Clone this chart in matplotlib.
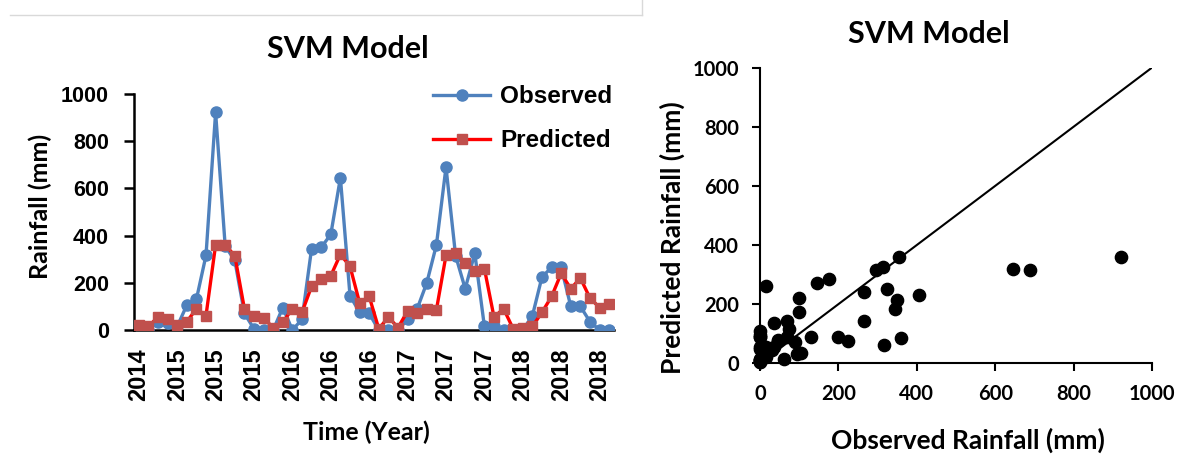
import matplotlib
matplotlib.use("Agg")
import matplotlib.pyplot as plt
from matplotlib.lines import Line2D

# monthly observed and SVM predicted rainfall (mm)
observed = [5, 0, 35, 30, 15, 105, 130, 316, 922, 355,
            295, 70, 5, 0, 0, 95, 0, 45, 345, 350,
            405, 645, 145, 75, 70, 0, 0, 0, 45, 90,
            200, 360, 690, 315, 175, 325, 15, 15, 0, 0,
            0, 60, 225, 265, 265, 100, 100, 35, 0, 0]
predicted = [20, 15, 55, 45, 20, 35, 90, 61, 360, 360,
             315, 90, 60, 50, 10, 33, 90, 75, 185, 215,
             230, 320, 270, 115, 142, 5, 55, 10, 80, 72,
             90, 85, 316, 325, 285, 250, 260, 55, 90, 5,
             10, 15, 75, 142, 240, 175, 220, 135, 95, 110]
tick_labels = ["2014", "2015", "2015", "2015", "2016", "2016", "2016",
               "2017", "2017", "2017", "2018", "2018", "2018"]
scatter_ticks = [0, 200, 400, 600, 800, 1000]

blue = "#4f81bd"
red_line = "#ff0000"
red_mark = "#c0504d"
lab_font = "Lato"
tick_font = "Liberation Sans"

fig = plt.figure(figsize=(11.84, 4.59), dpi=100)

# thin grey border left over from the screenshot
fig.add_artist(Line2D([10 / 1184, 642 / 1184], [1 - 15 / 459, 1 - 15 / 459],
                      color="#d9d9d9", lw=1))
fig.add_artist(Line2D([642 / 1184, 642 / 1184], [1, 1 - 15 / 459],
                      color="#d9d9d9", lw=1))

# ---- left: time series ----
ax1 = fig.add_axes([134 / 1184, 129 / 459, 480 / 1184, 236 / 459])
x = list(range(len(observed)))
ax1.plot(x, observed, color=blue, lw=2.4, marker="o", ms=8,
         markerfacecolor=blue, markeredgecolor=blue, label="Observed", zorder=3)
ax1.plot(x, predicted, color=red_line, lw=2.4, marker="s", ms=7.5,
         markerfacecolor=red_mark, markeredgecolor=red_mark, label="Predicted", zorder=4)
ax1.set_xlim(-0.5, len(observed) - 0.5)
ax1.set_ylim(0, 1000)
ax1.set_yticks(scatter_ticks)
ax1.set_xticks(x[::4])
ax1.set_xticklabels(tick_labels, rotation=90)
ax1.tick_params(axis="x", length=0, pad=13)
ax1.tick_params(axis="y", direction="out", length=7, width=1.8, pad=11)
for lab in ax1.get_xticklabels():
    lab.set_fontfamily(tick_font)
    lab.set_fontweight("bold")
    lab.set_fontsize(17)
for lab in ax1.get_yticklabels():
    lab.set_fontfamily(tick_font)
    lab.set_fontweight("bold")
    lab.set_fontsize(15.5)
for s in ["top", "right"]:
    ax1.spines[s].set_visible(False)
ax1.spines["left"].set_linewidth(1.8)
ax1.spines["bottom"].set_linewidth(1.8)
ax1.set_title("SVM Model", fontfamily=lab_font, fontweight="bold", fontsize=22,
              x=0.446, y=1.157, va="center")
ax1.set_xlabel("Time (Year)", fontfamily=lab_font, fontweight="bold", fontsize=18, va="center")
ax1.xaxis.set_label_coords(0.485, -0.432)
ax1.set_ylabel("Rainfall (mm)", fontfamily=lab_font, fontweight="bold", fontsize=18, va="center")
ax1.yaxis.set_label_coords(-0.196, 0.525)
leg = ax1.legend(loc="upper left", bbox_to_anchor=(0.623, 1.037), frameon=False,
                 borderpad=0, borderaxespad=0,
                 prop={"family": tick_font, "weight": "bold", "size": 17.5},
                 handlelength=2.35, labelspacing=0.87, handletextpad=0.4)

# ---- right: observed vs predicted ----
ax2 = fig.add_axes([760 / 1184, 95.7 / 459, 392 / 1184, 295.7 / 459])
ax2.scatter(observed, predicted, s=78, color="black", zorder=3, clip_on=False)
ax2.plot([0, 1000], [0, 1000], color="black", lw=1.5)
ax2.set_xlim(0, 1000)
ax2.set_ylim(0, 1000)
ax2.set_xticks(scatter_ticks)
ax2.set_yticks(scatter_ticks)
ax2.tick_params(direction="out", length=6, width=1.5, pad=9)
for lab in ax2.get_xticklabels() + ax2.get_yticklabels():
    lab.set_fontfamily(lab_font)
    lab.set_fontweight("bold")
    lab.set_fontsize(14.5)
for s in ["top", "right"]:
    ax2.spines[s].set_visible(False)
ax2.spines["left"].set_linewidth(1.5)
ax2.spines["bottom"].set_linewidth(1.5)
ax2.set_title("SVM Model", fontfamily=lab_font, fontweight="bold", fontsize=22,
              x=0.431, y=1.087, va="center")
ax2.set_xlabel("Observed Rainfall (mm)", fontfamily=lab_font, fontweight="bold", fontsize=19, va="center")
ax2.xaxis.set_label_coords(0.531, -0.259)
ax2.set_ylabel("Predicted Rainfall (mm)", fontfamily=lab_font, fontweight="bold", fontsize=19, va="center")
ax2.yaxis.set_label_coords(-0.224, 0.424)

plt.savefig("out.png", dpi=100)
plt.close()
